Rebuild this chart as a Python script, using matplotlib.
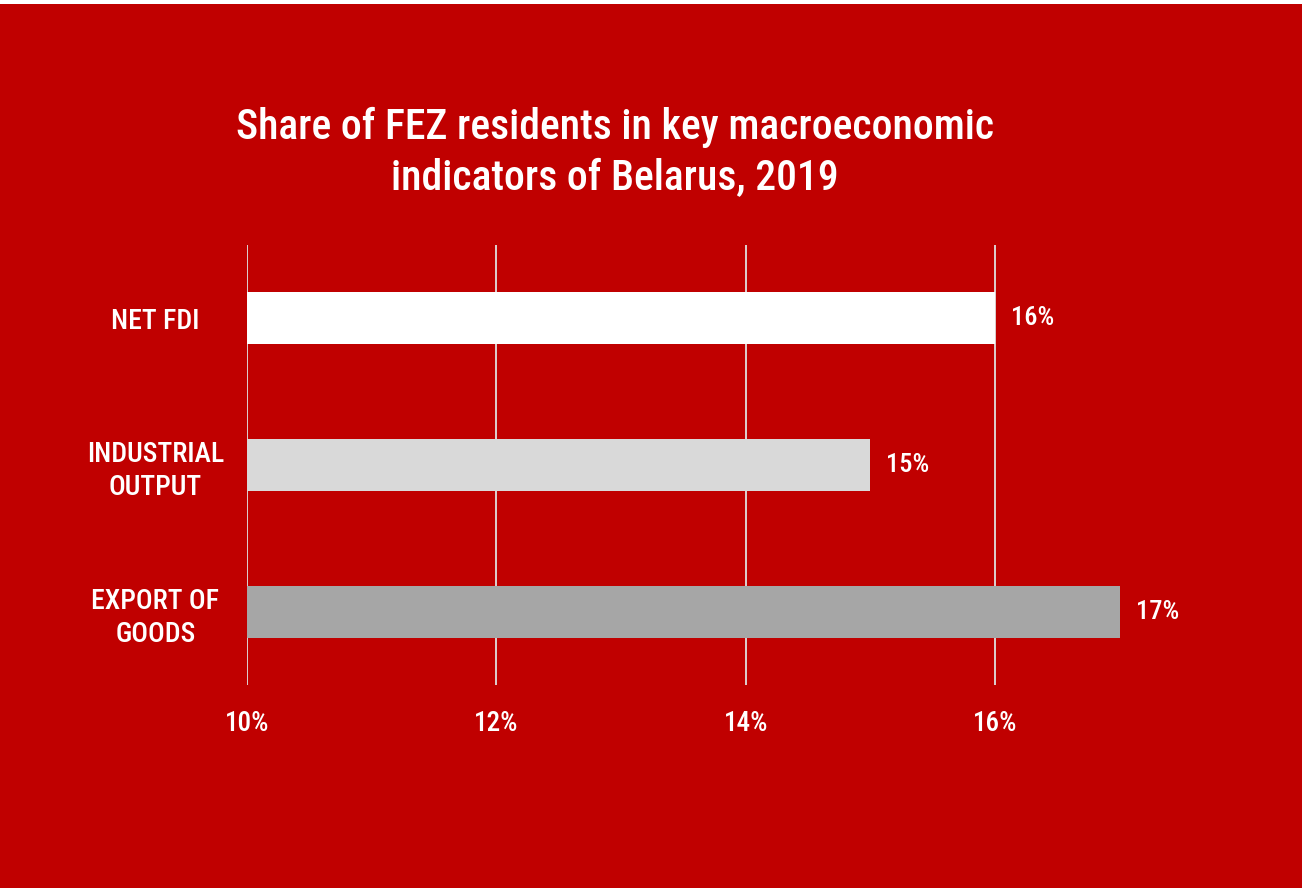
import matplotlib
matplotlib.use("Agg")
import matplotlib.pyplot as plt
from matplotlib import font_manager

categories = ["NET FDI", "INDUSTRIAL\nOUTPUT", "EXPORT OF\nGOODS"]
values = [16, 15, 17]
bar_colors = ["#FFFFFF", "#D9D9D9", "#A6A6A6"]
xticks = [10, 12, 14, 16]
title = "Share of FEZ residents in key macroeconomic\nindicators of Belarus, 2019"

names = {f.name for f in font_manager.fontManager.ttflist}
fam = "DejaVu Sans"
for cand in ["Roboto Condensed", "Liberation Sans Narrow", "Open Sans Condensed", "Roboto"]:
    if cand in names:
        fam = cand
        break
plt.rcParams['font.family'] = [fam, 'DejaVu Sans']

RED = "#C00000"
W, H = 1307, 888
PX_PER_UNIT = (995 - 247) / 6.0
fig = plt.figure(figsize=(W/100, H/100), dpi=100)
fig.patch.set_facecolor("white")
fig.add_artist(plt.Rectangle((0, 0), 1 - 5/W, 1 - 4/H, transform=fig.transFigure,
                             facecolor=RED, edgecolor="none", zorder=0))

ax = fig.add_axes([247/W, 1 - 685/H, (1290-247)/W, (685-245)/H])
ax.set_facecolor("none")
y = list(range(len(categories)))
ax.barh(y, [v - 10 for v in values], left=10, height=0.355, color=bar_colors, zorder=3)
ax.set_xticks(xticks)
ax.set_xticklabels([f"{t}%" for t in xticks], color="white", fontsize=19.5, fontweight="medium")
ax.set_xlim(10, 10 + (1290-247)/PX_PER_UNIT)
ax.set_yticks(y)
ax.set_yticklabels(categories, color="white", fontsize=20, linespacing=1.3, ha="center",
                   fontweight="medium")
ax.set_ylim(2.5, -0.5)
ax.tick_params(axis="y", length=0, pad=66)
ax.tick_params(axis="x", length=0, pad=18)
ax.grid(axis="x", color="#E0E0E0", linewidth=1.3, zorder=1)
for s in ax.spines.values():
    s.set_visible(False)
for yi, v in zip(y, values):
    ax.text(v + 16/PX_PER_UNIT, yi, f"{v}%", color="white", fontsize=19, va="center", ha="left",
            fontweight="medium")

fig.text(615/W, 1 - 153/H, title, color="white", fontsize=30, ha="center", va="center",
         linespacing=1.33, fontweight="medium")

fig.savefig("out.png", dpi=100, facecolor=fig.get_facecolor())
